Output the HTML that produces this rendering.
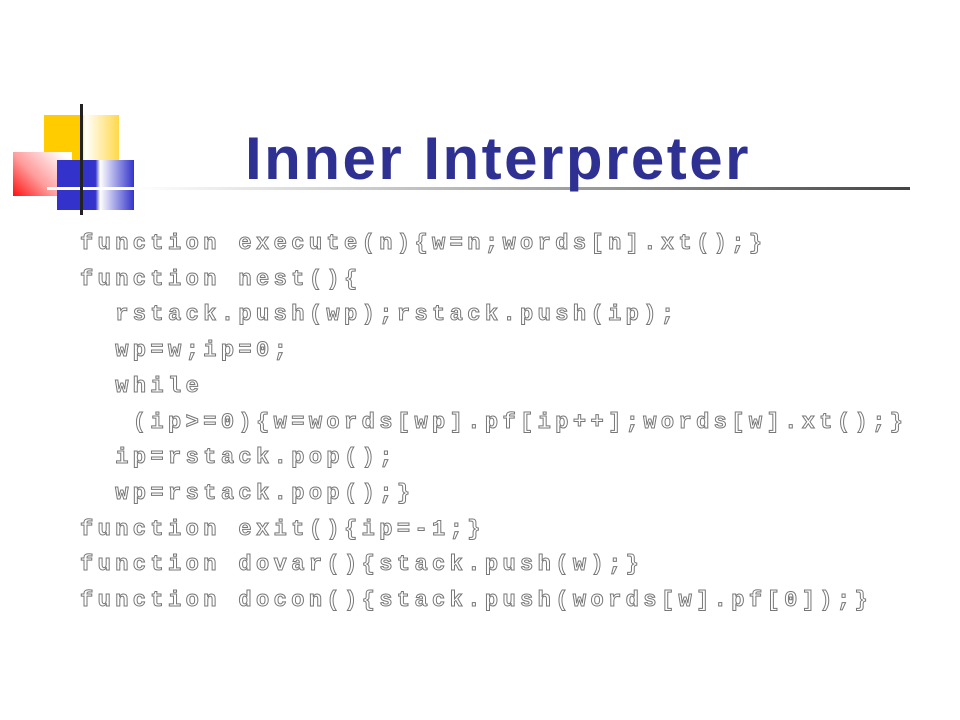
<!DOCTYPE html>
<html><head><style>
body{margin:0;width:960px;height:720px;background:#fff;position:relative;overflow:hidden}
.a{position:absolute}
.code{position:absolute;left:80px;top:226px;font-family:"Liberation Mono",monospace;font-weight:bold;font-size:22px;letter-spacing:4.4px;line-height:35.7px;color:#fff;-webkit-text-stroke:1px #777;white-space:pre}
</style></head><body>
<div class="a" style="left:44px;top:115px;width:75px;height:45px;background:linear-gradient(90deg,#ffcc00 0,#ffcc00 48%,#fff 55%,#ffd84a 100%)"></div>
<div class="a" style="left:13px;top:152px;width:59px;height:44px;background:linear-gradient(45deg,#ff1010 0,#ff9a9a 40%,#fff 90%)"></div>
<div class="a" style="left:57px;top:160px;width:77px;height:50px;background:linear-gradient(90deg,#3333cc 0,#3333cc 50%,#fff 56%,#3333cc 100%)"></div>
<div class="a" style="left:47px;top:187px;width:87px;height:3px;background:#fff"></div>
<div class="a" style="left:134px;top:187px;width:776px;height:3px;background:linear-gradient(90deg,#fff,#999 60%,#444)"></div>
<div class="a" style="left:80px;top:104px;width:3px;height:111px;background:#222"></div>
<div class="a" style="left:245px;top:129px;font-family:'Liberation Sans',sans-serif;font-weight:bold;font-size:60px;line-height:60px;color:#2e3192;white-space:nowrap;letter-spacing:2.5px">Inner Interpreter</div>
<div class="code">function execute(n){w=n;words[n].xt();}
function nest(){
  rstack.push(wp);rstack.push(ip);
  wp=w;ip=0;
  while
   (ip>=0){w=words[wp].pf[ip++];words[w].xt();}
  ip=rstack.pop();
  wp=rstack.pop();}
function exit(){ip=-1;}
function dovar(){stack.push(w);}
function docon(){stack.push(words[w].pf[0]);}</div>
</body></html>
